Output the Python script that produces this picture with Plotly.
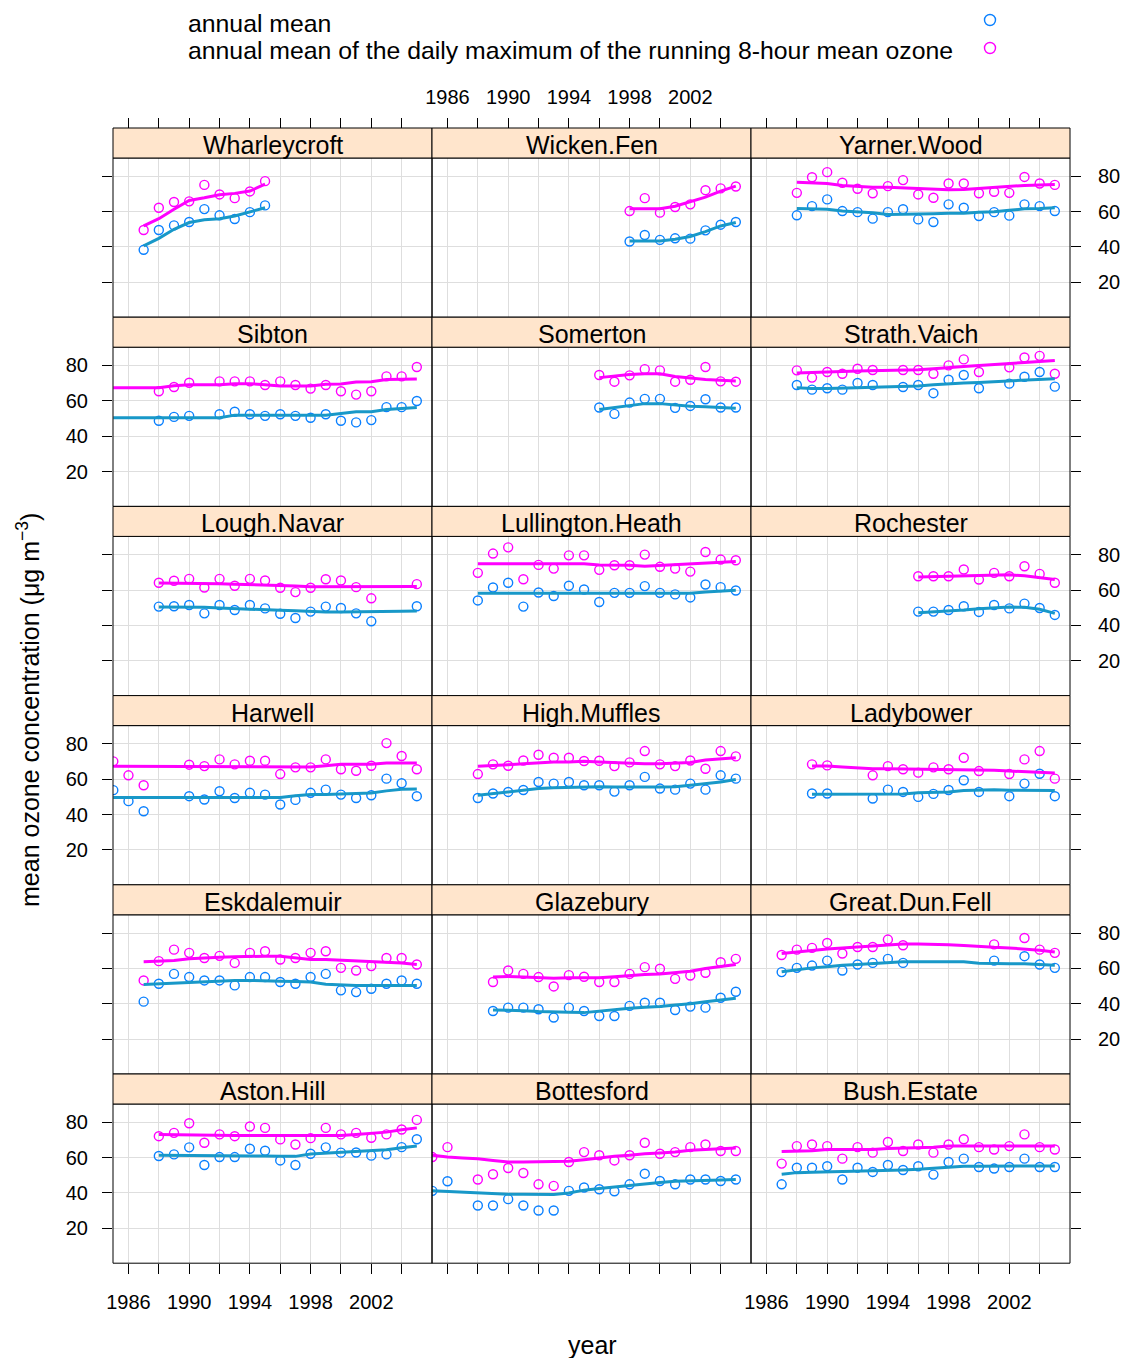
import plotly.graph_objects as go

# ---------------- data ----------------
wharleycroft_years = [1987, 1988, 1989, 1990, 1991, 1992, 1993, 1994, 1995]
wharleycroft_mean = [38.4, 49.6, 52.2, 54.1, 61.4, 57.9, 55.8, 59.7, 63.5]
wharleycroft_max8 = [49.6, 62.2, 65.4, 65.8, 75.1, 69.7, 67.6, 71.4, 77.2]
wharleycroft_fit_years = list(range(1987, 1996))
wharleycroft_fit_mean = [40.6, 44.9, 50.0, 53.8, 55.4, 56.0, 57.5, 59.9, 62.2]
wharleycroft_fit_max8 = [51.9, 56.0, 61.3, 66.3, 67.8, 69.5, 70.3, 71.6, 75.5]

wicken_years = [1998, 1999, 2000, 2001, 2002, 2003, 2004, 2005]
wicken_mean = [43.1, 46.8, 44.0, 44.9, 44.7, 49.4, 52.6, 54.1]
wicken_max8 = [60.3, 67.6, 59.4, 62.6, 64.1, 72.1, 73.1, 74.2]
wicken_fit_years = list(range(1998, 2006))
wicken_fit_mean = [43.4, 43.4, 43.4, 44.4, 45.9, 48.7, 51.9, 53.8]
wicken_fit_max8 = [61.6, 61.6, 61.6, 63.0, 65.4, 68.2, 71.6, 74.4]

yarner_years = list(range(1988, 2006))
yarner_mean = [57.9, 63.1, 66.9, 60.3, 59.7, 56.0, 59.7, 61.3, 55.6, 54.1, 64.1, 62.2, 57.5, 59.7, 57.7, 64.1, 63.1, 60.3]
yarner_max8 = [70.6, 79.4, 82.3, 76.3, 72.9, 70.4, 74.4, 77.8, 69.7, 67.8, 75.9, 75.9, 70.4, 71.2, 70.6, 79.6, 75.9, 75.1]
yarner_fit_years = list(range(1988, 2006))
yarner_fit_mean = [61.8, 61.6, 61.3, 60.3, 59.8, 59.4, 58.4, 58.4, 58.4, 58.8, 59.0, 59.0, 59.6, 59.9, 60.7, 61.6, 61.8, 62.2]
yarner_fit_max8 = [76.6, 76.3, 75.9, 74.8, 74.2, 73.8, 73.8, 73.4, 73.1, 72.9, 72.3, 72.5, 73.1, 73.4, 74.0, 74.8, 75.1, 75.3]

sibton_years = [1988, 1989, 1990] + list(range(1992, 2006))
sibton_mean = [48.7, 50.9, 51.5, 52.4, 53.8, 52.4, 51.5, 52.4, 51.5, 50.4, 52.4, 48.7, 47.8, 49.1, 56.4, 56.4, 59.9]
sibton_max8 = [65.4, 67.8, 70.2, 71.0, 71.0, 71.0, 68.9, 71.0, 68.9, 66.9, 68.9, 65.4, 63.5, 65.4, 73.8, 73.8, 79.1]
sibton_fit_years = list(range(1985, 2006))
sibton_fit_mean = [50.4, 50.4, 50.4, 50.4, 50.4, 50.4, 50.4, 50.4, 51.9, 51.9, 51.9, 51.9, 51.9, 51.9, 51.9, 52.8, 53.8, 53.8, 55.1, 55.6, 56.2]
sibton_fit_max8 = [67.4, 67.4, 67.4, 67.4, 68.5, 69.1, 69.1, 69.1, 69.7, 69.7, 69.1, 68.4, 68.4, 68.4, 69.3, 69.5, 70.6, 70.8, 72.0, 72.3, 72.3]

somerton_years = list(range(1996, 2006))
somerton_mean = [56.2, 52.6, 59.0, 61.1, 61.1, 56.0, 57.1, 60.9, 56.2, 56.2]
somerton_max8 = [74.6, 70.8, 74.4, 77.9, 77.2, 70.8, 71.9, 79.1, 71.0, 70.8]
somerton_fit_years = list(range(1996, 2006))
somerton_fit_mean = [55.1, 56.2, 57.5, 58.4, 58.4, 57.5, 56.9, 56.6, 56.0, 55.8]
somerton_fit_max8 = [73.1, 74.0, 74.8, 75.3, 75.3, 73.8, 72.9, 72.1, 71.6, 71.2]

strath_years = [1988, 1989, 1990, 1991, 1992, 1993, 1995, 1996, 1997, 1998, 1999, 2000, 2002, 2003, 2004, 2005]
strath_mean = [68.9, 66.3, 67.1, 66.3, 70.1, 68.9, 67.8, 68.9, 64.3, 71.9, 74.6, 67.1, 69.7, 73.6, 76.3, 68.0]
strath_max8 = [77.2, 73.1, 76.3, 75.3, 78.1, 77.4, 77.4, 77.4, 75.3, 80.0, 83.4, 76.3, 78.9, 84.5, 85.4, 75.3]
strath_fit_years = list(range(1988, 2006))
strath_fit_mean = [67.4, 66.9, 66.9, 67.3, 67.4, 67.6, 67.8, 68.2, 68.4, 69.1, 69.7, 70.1, 70.4, 70.8, 71.4, 71.6, 72.1, 72.5]
strath_fit_max8 = [75.7, 76.1, 76.3, 76.6, 76.8, 77.0, 77.2, 77.2, 77.6, 78.1, 78.9, 79.4, 80.0, 80.4, 80.9, 81.6, 82.2, 82.8]

lough_years = list(range(1988, 2003)) + [2005]
lough_mean = [50.6, 50.8, 51.5, 46.8, 51.5, 48.7, 51.5, 49.6, 46.6, 44.2, 47.8, 50.6, 49.8, 46.8, 42.3, 50.8]
lough_max8 = [64.1, 65.2, 66.3, 61.4, 66.3, 62.4, 66.3, 65.4, 61.3, 58.8, 61.3, 66.1, 65.4, 61.6, 55.3, 63.3]
lough_fit_years = list(range(1988, 2006))
lough_fit_mean = [50.4, 50.4, 50.4, 50.2, 49.8, 49.4, 49.2, 48.8, 48.5, 48.3, 47.9, 47.6, 47.6, 47.6, 47.6, 47.8, 48.0, 48.1]
lough_fit_max8 = [63.9, 63.9, 63.7, 63.7, 63.5, 63.3, 63.1, 62.9, 62.6, 62.2, 61.8, 61.8, 61.8, 61.8, 62.0, 62.0, 62.0, 62.0]

lullington_years = list(range(1988, 2006))
lullington_mean = [54.1, 61.4, 64.1, 50.6, 58.6, 56.6, 62.4, 60.3, 53.2, 58.4, 58.4, 62.2, 58.4, 57.5, 55.8, 63.1, 61.6, 59.7]
lullington_max8 = [69.7, 80.6, 84.1, 66.1, 74.2, 72.1, 79.6, 79.6, 71.4, 74.0, 74.0, 80.0, 73.1, 72.1, 70.4, 81.5, 77.2, 76.8]
lullington_fit_years = list(range(1988, 2006))
lullington_fit_mean = [58.1, 58.1, 58.1, 58.1, 58.1, 58.1, 58.1, 58.1, 58.1, 58.1, 58.1, 58.1, 58.1, 58.1, 58.1, 58.8, 59.4, 59.8]
lullington_fit_max8 = [74.8, 74.8, 74.8, 74.8, 74.8, 74.8, 74.8, 74.8, 74.2, 74.2, 74.0, 73.4, 73.8, 74.2, 74.9, 75.3, 75.7, 76.1]

rochester_years = list(range(1996, 2006))
rochester_mean = [47.8, 47.8, 48.7, 50.8, 47.6, 51.5, 49.6, 52.3, 49.8, 45.9]
rochester_max8 = [67.8, 67.8, 67.8, 71.6, 65.9, 69.7, 67.8, 73.4, 69.1, 64.1]
rochester_fit_years = list(range(1996, 2006))
rochester_fit_mean = [47.2, 47.6, 47.9, 48.7, 49.4, 50.0, 50.4, 50.2, 49.1, 46.8]
rochester_fit_max8 = [67.4, 67.6, 67.8, 68.0, 68.2, 68.6, 68.6, 68.0, 67.1, 65.9]

harwell_years = [1985, 1986, 1987] + list(range(1990, 2006))
harwell_mean = [53.8, 47.6, 41.9, 50.4, 48.5, 53.2, 49.4, 52.3, 51.3, 45.7, 48.3, 52.3, 54.1, 51.3, 49.4, 50.9, 60.3, 57.7, 50.4]
harwell_max8 = [70.1, 62.2, 56.6, 68.2, 67.4, 71.2, 68.4, 70.4, 70.4, 62.9, 66.7, 66.7, 71.2, 65.6, 64.8, 67.6, 80.4, 73.1, 65.6]
harwell_fit_years = list(range(1985, 2006))
harwell_fit_mean = [49.6, 49.6, 49.6, 49.6, 49.6, 49.6, 49.6, 49.6, 49.6, 49.6, 49.6, 49.6, 50.6, 51.3, 51.3, 51.7, 51.9, 52.2, 53.4, 54.3, 54.5]
harwell_fit_max8 = [67.3, 67.3, 67.3, 67.3, 67.3, 67.3, 67.3, 67.3, 67.3, 67.3, 67.3, 66.9, 66.9, 66.9, 67.6, 68.4, 68.4, 68.4, 69.1, 69.1, 69.1]

muffles_years = list(range(1988, 2006))
muffles_mean = [49.4, 51.9, 52.8, 53.9, 58.4, 57.5, 58.4, 56.6, 56.6, 53.0, 56.6, 61.3, 54.7, 54.1, 57.5, 54.1, 62.2, 60.3]
muffles_max8 = [62.9, 68.4, 67.6, 70.6, 73.8, 72.1, 72.1, 70.3, 70.4, 67.4, 69.5, 75.9, 68.4, 67.4, 70.6, 65.9, 75.9, 72.9]
muffles_fit_years = list(range(1988, 2006))
muffles_fit_mean = [50.9, 51.9, 52.8, 53.6, 54.7, 55.1, 55.4, 55.8, 55.8, 55.6, 55.4, 55.6, 55.6, 55.8, 56.6, 57.5, 58.4, 59.8]
muffles_fit_max8 = [67.3, 67.6, 68.2, 68.8, 69.3, 69.7, 69.7, 70.1, 69.7, 69.3, 69.1, 68.8, 68.8, 69.1, 69.5, 70.8, 71.6, 72.1]

ladybower_years = [1989, 1990, 1993, 1994, 1995, 1996, 1997, 1998, 1999, 2000, 2002, 2003, 2004, 2005]
ladybower_mean = [51.9, 51.9, 49.1, 54.1, 52.8, 50.0, 51.7, 53.9, 59.4, 52.8, 50.4, 57.5, 63.1, 50.4]
ladybower_max8 = [68.4, 67.8, 62.2, 67.4, 65.6, 63.7, 66.7, 65.6, 72.1, 64.6, 62.9, 71.2, 75.9, 60.3]
ladybower_fit_years = list(range(1989, 2006))
ladybower_fit_mean = [51.5, 51.5, 51.5, 51.5, 51.5, 51.5, 51.7, 52.3, 52.4, 52.8, 53.6, 53.9, 54.1, 53.8, 53.6, 53.6, 53.6]
ladybower_fit_max8 = [67.4, 67.4, 66.9, 66.3, 65.9, 65.9, 65.8, 65.6, 65.4, 65.4, 65.2, 65.2, 65.0, 64.6, 64.1, 63.7, 63.5]

eskdalemuir_years = list(range(1987, 2006))
eskdalemuir_mean = [41.2, 51.3, 56.9, 55.1, 53.2, 53.2, 50.4, 55.1, 55.1, 52.3, 51.3, 55.1, 56.9, 47.6, 46.6, 48.5, 51.3, 53.2, 51.3]
eskdalemuir_max8 = [53.2, 64.1, 70.6, 68.8, 65.9, 67.1, 63.1, 68.8, 69.7, 65.0, 65.9, 68.8, 69.7, 60.3, 58.8, 61.3, 65.9, 65.9, 62.2]
eskdalemuir_fit_years = list(range(1987, 2006))
eskdalemuir_fit_mean = [50.9, 51.3, 51.9, 52.4, 52.8, 53.0, 53.2, 53.2, 53.2, 52.8, 52.6, 52.3, 51.0, 50.6, 50.4, 50.4, 50.4, 50.4, 50.4]
eskdalemuir_fit_max8 = [63.7, 64.1, 64.4, 65.5, 66.1, 66.3, 66.6, 66.9, 66.9, 66.9, 65.9, 65.0, 65.0, 64.6, 64.1, 63.7, 63.1, 63.1, 62.2]

glazebury_years = list(range(1989, 2006))
glazebury_mean = [35.9, 37.8, 37.8, 36.9, 32.2, 37.8, 35.9, 33.1, 33.1, 38.8, 40.6, 40.6, 36.5, 38.4, 37.8, 43.4, 46.8]
glazebury_max8 = [52.3, 58.8, 56.9, 55.1, 49.8, 56.2, 55.3, 52.3, 52.3, 56.9, 60.7, 59.8, 54.1, 56.0, 57.5, 63.5, 65.4]
glazebury_fit_years = list(range(1989, 2006))
glazebury_fit_mean = [36.5, 36.5, 36.1, 35.6, 35.2, 35.2, 35.0, 35.9, 36.5, 37.4, 38.0, 38.4, 39.3, 40.0, 41.2, 42.3, 43.1]
glazebury_fit_max8 = [55.1, 55.4, 55.1, 54.7, 54.5, 54.7, 54.7, 54.7, 55.3, 56.0, 56.6, 56.9, 57.5, 58.4, 59.9, 61.1, 62.2]

dunfell_years = [1987, 1988, 1989, 1990, 1991, 1992, 1993, 1994, 1995, 2001, 2003, 2004, 2005]
dunfell_mean = [57.9, 60.3, 61.6, 64.4, 58.8, 62.2, 63.1, 65.4, 63.1, 64.4, 66.9, 62.2, 60.3]
dunfell_max8 = [67.6, 70.6, 71.6, 74.4, 68.4, 72.1, 72.1, 76.3, 73.1, 73.6, 77.2, 70.6, 68.8]
dunfell_fit_years = list(range(1987, 2006))
dunfell_fit_mean = [58.1, 59.4, 60.3, 60.9, 61.8, 62.2, 62.8, 63.3, 63.7, 63.7, 63.7, 63.7, 63.7, 62.9, 62.6, 62.6, 62.6, 62.0, 61.8]
dunfell_fit_max8 = [68.4, 69.3, 70.4, 71.0, 71.6, 72.1, 72.5, 73.1, 73.8, 73.8, 73.8, 73.4, 72.9, 72.3, 71.9, 71.6, 71.0, 70.3, 69.3]

aston_years = list(range(1988, 2006))
aston_mean = [60.9, 61.8, 65.8, 55.8, 60.3, 60.3, 65.0, 63.9, 58.4, 55.8, 62.2, 65.8, 62.8, 62.9, 61.1, 61.8, 65.9, 70.4]
aston_max8 = [72.1, 74.0, 79.4, 68.4, 73.1, 72.1, 77.6, 76.8, 70.3, 67.4, 71.0, 76.8, 73.1, 74.0, 71.2, 73.1, 75.9, 81.3]
aston_fit_years = list(range(1988, 2006))
aston_fit_mean = [61.3, 61.3, 61.1, 61.1, 61.1, 61.0, 61.0, 60.9, 60.7, 60.7, 62.0, 62.4, 62.8, 63.3, 63.7, 64.4, 65.6, 66.5]
aston_fit_max8 = [73.1, 72.9, 72.7, 72.5, 72.5, 72.5, 72.5, 72.5, 72.5, 72.5, 72.5, 72.5, 72.5, 73.1, 73.8, 74.4, 75.7, 76.8]

bottesford_years = [1985, 1986] + list(range(1988, 2006))
bottesford_mean = [41.2, 46.6, 32.9, 32.9, 36.5, 32.9, 30.1, 30.1, 41.2, 43.1, 42.1, 41.0, 44.9, 50.9, 46.8, 44.9, 47.6, 47.6, 46.8, 47.6]
bottesford_max8 = [60.3, 65.9, 47.6, 50.6, 54.1, 51.3, 44.9, 44.0, 57.5, 63.1, 61.3, 58.4, 61.3, 68.4, 62.2, 63.1, 65.9, 67.4, 63.7, 63.7]
bottesford_fit_years = list(range(1985, 2006))
bottesford_fit_mean = [41.2, 40.8, 40.4, 40.0, 39.7, 39.3, 39.3, 39.1, 39.1, 40.0, 41.6, 42.5, 43.4, 44.4, 45.3, 45.9, 46.6, 47.0, 47.2, 47.4, 47.6]
bottesford_fit_max8 = [61.3, 60.3, 59.8, 59.4, 58.4, 57.5, 57.5, 57.5, 57.5, 57.9, 58.8, 59.9, 60.7, 61.3, 62.2, 62.6, 63.1, 64.1, 64.6, 65.2, 65.4]

bush_years = list(range(1987, 2006))
bush_mean = [44.9, 54.3, 54.3, 55.1, 47.6, 54.3, 51.9, 55.8, 53.0, 55.1, 50.4, 57.5, 59.4, 54.7, 53.8, 54.7, 59.4, 54.7, 54.7]
bush_max8 = [56.6, 66.5, 67.4, 66.5, 59.4, 65.9, 62.8, 68.8, 63.7, 67.4, 62.8, 67.4, 70.4, 65.9, 64.6, 66.5, 73.1, 65.9, 64.6]
bush_fit_years = list(range(1987, 2006))
bush_fit_mean = [50.6, 51.5, 51.7, 51.9, 51.9, 52.3, 52.4, 52.8, 53.0, 53.4, 54.1, 54.7, 55.1, 55.1, 55.1, 55.1, 55.3, 55.3, 55.3]
bush_fit_max8 = [63.5, 63.5, 63.9, 64.6, 64.6, 64.6, 64.6, 65.2, 65.4, 65.4, 65.9, 66.5, 66.5, 66.5, 66.5, 66.5, 66.5, 66.5, 66.5]

site_names = ["Wharleycroft", "Wicken.Fen", "Yarner.Wood",
              "Sibton", "Somerton", "Strath.Vaich",
              "Lough.Navar", "Lullington.Heath", "Rochester",
              "Harwell", "High.Muffles", "Ladybower",
              "Eskdalemuir", "Glazebury", "Great.Dun.Fell",
              "Aston.Hill", "Bottesford", "Bush.Estate"]

x_major_ticks = [1986, 1990, 1994, 1998, 2002]
x_minor_ticks = [1988, 1992, 1996, 2000, 2004]
y_tick_values = [20, 40, 60, 80]

legend_labels = ["annual mean",
                 "annual mean of the daily maximum of the running 8-hour mean ozone"]

panels = [
    (wharleycroft_years, wharleycroft_mean, wharleycroft_max8, wharleycroft_fit_years, wharleycroft_fit_mean, wharleycroft_fit_max8),
    (wicken_years, wicken_mean, wicken_max8, wicken_fit_years, wicken_fit_mean, wicken_fit_max8),
    (yarner_years, yarner_mean, yarner_max8, yarner_fit_years, yarner_fit_mean, yarner_fit_max8),
    (sibton_years, sibton_mean, sibton_max8, sibton_fit_years, sibton_fit_mean, sibton_fit_max8),
    (somerton_years, somerton_mean, somerton_max8, somerton_fit_years, somerton_fit_mean, somerton_fit_max8),
    (strath_years, strath_mean, strath_max8, strath_fit_years, strath_fit_mean, strath_fit_max8),
    (lough_years, lough_mean, lough_max8, lough_fit_years, lough_fit_mean, lough_fit_max8),
    (lullington_years, lullington_mean, lullington_max8, lullington_fit_years, lullington_fit_mean, lullington_fit_max8),
    (rochester_years, rochester_mean, rochester_max8, rochester_fit_years, rochester_fit_mean, rochester_fit_max8),
    (harwell_years, harwell_mean, harwell_max8, harwell_fit_years, harwell_fit_mean, harwell_fit_max8),
    (muffles_years, muffles_mean, muffles_max8, muffles_fit_years, muffles_fit_mean, muffles_fit_max8),
    (ladybower_years, ladybower_mean, ladybower_max8, ladybower_fit_years, ladybower_fit_mean, ladybower_fit_max8),
    (eskdalemuir_years, eskdalemuir_mean, eskdalemuir_max8, eskdalemuir_fit_years, eskdalemuir_fit_mean, eskdalemuir_fit_max8),
    (glazebury_years, glazebury_mean, glazebury_max8, glazebury_fit_years, glazebury_fit_mean, glazebury_fit_max8),
    (dunfell_years, dunfell_mean, dunfell_max8, dunfell_fit_years, dunfell_fit_mean, dunfell_fit_max8),
    (aston_years, aston_mean, aston_max8, aston_fit_years, aston_fit_mean, aston_fit_max8),
    (bottesford_years, bottesford_mean, bottesford_max8, bottesford_fit_years, bottesford_fit_mean, bottesford_fit_max8),
    (bush_years, bush_mean, bush_max8, bush_fit_years, bush_fit_mean, bush_fit_max8),
]

# ---------------- styling / layout ----------------
W, H = 1124, 1358
FONT = "Liberation Sans, Arial, Helvetica, sans-serif"
C_MEAN_PT = "#0a80ff"
C_MEAN_LN = "#1898c8"
C_MAX = "#ff00ff"
GRID = "#dedede"
STRIP = "#ffe5cc"
X_RANGE = [1984.98, 2006.0]
Y_RANGE = [0.3, 90.3]

col_px = [(113, 432), (432, 751), (751, 1070)]
top0 = 128.0
pitch = 189.2
strip_h = 30.0


def fx(px):
    return px / W


def fy(py):
    return 1 - py / H


fig = go.Figure()
layout = {}
shapes = []
annotations = []
tick_font = dict(family=FONT, size=20, color="black")

for i, (yrs, mean, max8, fyrs, fmean, fmax8) in enumerate(panels):
    r, c = divmod(i, 3)
    sfx = "" if i == 0 else str(i + 1)
    x0, x1 = col_px[c]
    s_top = top0 + pitch * r
    p_top = s_top + strip_h
    p_bot = top0 + pitch * (r + 1)

    x_has_ticks = r in (0, 5)
    xa = dict(domain=[fx(x0), fx(x1)], range=X_RANGE, anchor="y" + sfx,
              automargin=False, fixedrange=True,
              showgrid=True, gridcolor=GRID, gridwidth=1.2, zeroline=False,
              showline=False, tickmode="array", tickvals=x_major_ticks,
              ticks="outside" if x_has_ticks else "", showticklabels=False,
              tickfont=tick_font, tickcolor="black", ticklen=10, tickwidth=1,
              minor=dict(tickmode="array", tickvals=x_minor_ticks,
                         ticks="outside" if x_has_ticks else "",
                         ticklen=10, tickwidth=1, tickcolor="black",
                         showgrid=True, gridcolor=GRID, gridwidth=1.2))
    if r == 0:
        xa.update(anchor="free", position=fy(top0), side="top",
                  showticklabels=(c == 1), ticklabelstandoff=6)
    if r == 5:
        xa.update(side="bottom", showticklabels=(c != 1), ticklabelstandoff=11)
    ya = dict(domain=[fy(p_bot), fy(p_top)], range=Y_RANGE, anchor="x" + sfx,
              automargin=False, fixedrange=True,
              showgrid=True, gridcolor=GRID, gridwidth=1.2, zeroline=False,
              showline=False, tickmode="array", tickvals=y_tick_values, ticks="",
              showticklabels=False, tickfont=tick_font, tickcolor="black",
              ticklen=10, tickwidth=1)
    if c == 0:
        ya.update(side="left", ticks="outside", showticklabels=(r % 2 == 1),
                  ticklabelstandoff=10)
    if c == 2:
        ya.update(side="right", ticks="outside", showticklabels=(r % 2 == 0),
                  ticklabelstandoff=13)
    layout["xaxis" + sfx] = xa
    layout["yaxis" + sfx] = ya

    xr, yr = "x" + sfx, "y" + sfx
    fig.add_trace(go.Scatter(x=yrs, y=mean, mode="markers", xaxis=xr, yaxis=yr,
                             marker=dict(symbol="circle-open", size=9, color=C_MEAN_PT,
                                         line=dict(width=1.4, color=C_MEAN_PT)),
                             showlegend=False, hoverinfo="skip"))
    fig.add_trace(go.Scatter(x=yrs, y=max8, mode="markers", xaxis=xr, yaxis=yr,
                             marker=dict(symbol="circle-open", size=9, color=C_MAX,
                                         line=dict(width=1.4, color=C_MAX)),
                             showlegend=False, hoverinfo="skip"))
    fig.add_trace(go.Scatter(x=fyrs, y=fmean, mode="lines", xaxis=xr, yaxis=yr,
                             line=dict(color=C_MEAN_LN, width=3),
                             showlegend=False, hoverinfo="skip"))
    fig.add_trace(go.Scatter(x=fyrs, y=fmax8, mode="lines", xaxis=xr, yaxis=yr,
                             line=dict(color=C_MAX, width=3),
                             showlegend=False, hoverinfo="skip"))

    # panel border
    shapes.append(dict(type="rect", xref="paper", yref="paper",
                       x0=fx(x0), x1=fx(x1), y0=fy(p_bot), y1=fy(p_top),
                       line=dict(color="black", width=1), fillcolor="rgba(0,0,0,0)",
                       layer="above"))
    # strip
    shapes.append(dict(type="rect", xref="paper", yref="paper",
                       x0=fx(x0), x1=fx(x1), y0=fy(p_top), y1=fy(s_top),
                       line=dict(color="black", width=1), fillcolor=STRIP,
                       layer="above"))
    annotations.append(dict(text=site_names[i], xref="paper", yref="paper",
                            x=fx((x0 + x1) / 2), y=fy(s_top + strip_h / 2 + 2),
                            xanchor="center", yanchor="middle", showarrow=False,
                            font=dict(family=FONT, size=25, color="black")))

# key (legend) at the top: text left, symbols right
key_y = [23, 51]
key_cols = [C_MEAN_PT, C_MAX]
for lab, ky, kc in zip(legend_labels, key_y, key_cols):
    annotations.append(dict(text=lab, xref="paper", yref="paper", x=fx(186), y=fy(ky),
                            xanchor="left", yanchor="middle", showarrow=False,
                            font=dict(family=FONT, size=24.8, color="black")))
    r_px = 5.5
    shapes.append(dict(type="circle", xref="paper", yref="paper",
                       x0=fx(990 - r_px), x1=fx(990 + r_px),
                       y0=fy(ky - 3 + r_px), y1=fy(ky - 3 - r_px),
                       line=dict(color=kc, width=1.4)))

# axis titles
annotations.append(dict(text="year", xref="paper", yref="paper", x=fx(592), y=fy(1345),
                        xanchor="center", yanchor="middle", showarrow=False,
                        font=dict(family=FONT, size=25, color="black")))
annotations.append(dict(text="mean ozone concentration (\u03bcg m<sup>\u22123</sup>)",
                        xref="paper", yref="paper", x=fx(28), y=fy(710),
                        xanchor="center", yanchor="middle", showarrow=False,
                        textangle=-90, font=dict(family=FONT, size=25, color="black")))

fig.update_layout(width=W, height=H, margin=dict(l=0, r=0, t=0, b=0, pad=0, autoexpand=False),
                  paper_bgcolor="white", plot_bgcolor="white",
                  shapes=shapes, annotations=annotations, showlegend=False,
                  font=dict(family=FONT), **layout)

fig.write_html("out.html")
